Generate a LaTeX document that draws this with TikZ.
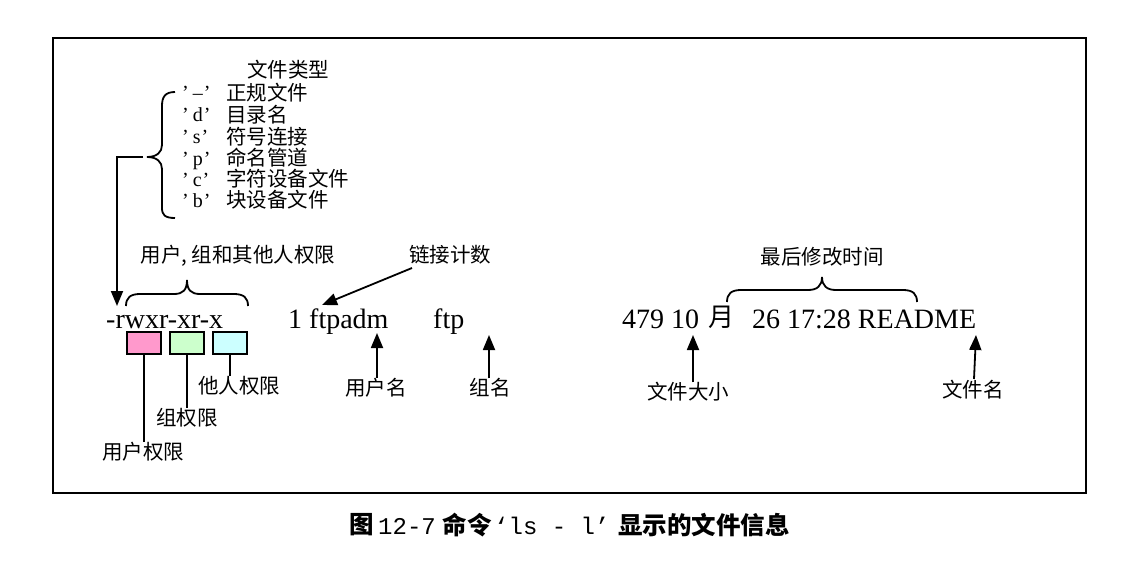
\documentclass[tikz,border=0pt]{standalone}
\usepackage{fontspec}
\setmainfont{Liberation Serif}
\newfontfamily\cjk{Noto Sans CJK SC}
\newfontfamily\mymono{Liberation Mono}
\usetikzlibrary{arrows.meta}
\tikzset{
  lbl/.style={font=\cjk\fontsize{20.5}{24}\selectfont, inner sep=0pt},
  code/.style={font=\fontsize{20}{24}\selectfont, inner sep=0pt, anchor=base west},
  big/.style={font=\fontsize{28}{32}\selectfont, inner sep=0pt, anchor=base west},
  ln/.style={line width=1.8pt},
  arr/.style={line width=1.8pt, -{Triangle[length=15pt,width=12pt]}},
  permbox/.style={draw, line width=1.5pt, minimum width=34pt, minimum height=22pt, inner sep=0pt},
  capt/.style={font=\cjk\bfseries\fontsize{24.5}{28}\selectfont, inner sep=0pt},
  captl/.style={font=\mymono\fontsize{24}{28}\selectfont, inner sep=0pt, anchor=base west},
}
\definecolor{pinkbox}{HTML}{FF99CC}
\definecolor{greenbox}{HTML}{CCFFCC}
\definecolor{cyanbox}{HTML}{CCFFFF}
\newcommand{\qc}[1]{’\hspace{4pt}#1\hspace{1pt}’}
\begin{document}
\begin{tikzpicture}[x=1pt,y=-1pt]
\useasboundingbox (0,0) rectangle (1135,567);
% frame
\draw[line width=2pt] (53,38) rectangle (1086,493);

% file type list
\node[lbl] (ft) at (288,70) {文件类型};
\foreach \c/\t/\y [count=\i] in {–/正规文件/93, d/目录名/115, s/符号连接/137, p/命名管道/158, c/字符设备文件/179, b/块设备文件/200}{
  \node[code] (c\i) at (182,\y+7) {\qc{\c}};
  \node[lbl, anchor=west] (t\i) at (226,\y) {\t};
}
% left brace
\draw[ln] (175,92) .. controls (165,92) and (162,97) .. (162,106) -- (162,145)
  .. controls (162,152) and (157,157) .. (147,157)
  .. controls (157,157) and (162,162) .. (162,169) -- (162,208)
  .. controls (162,215) and (165,218) .. (175,218);
\coordinate (bt) at (143,157);
\coordinate (ta) at (117,306);
\draw[arr] (bt) -| (ta);

% permissions
\node[lbl] (perm) at (238,256) {用户, 组和其他人权限};
\draw[ln] (126,306) .. controls (126,298) and (130,294) .. (140,294) -- (174,294)
  .. controls (183,294) and (187,290) .. (187,280)
  .. controls (187,290) and (191,294) .. (200,294) -- (234,294)
  .. controls (244,294) and (248,298) .. (248,306);
\node[big] (mode) at (106,328) {-rwxr-xr-x};
\node[permbox, fill=pinkbox] (pb) at (144,343) {};
\node[permbox, fill=greenbox] (gb) at (187,343) {};
\node[permbox, fill=cyanbox] (cb) at (230,343) {};
\node[lbl] (ul) at (143,452) {用户权限};
\node[lbl] (gl) at (187,418) {组权限};
\node[lbl] (ol) at (239,386) {他人权限};
\draw[ln] (pb.south) -- (pb.south |- ul.north);
\draw[ln] (gb.south) -- (gb.south |- gl.north);
\draw[ln] (cb.south) -- (cb.south |- ol.north);

% link count, user, group
\node[big] (owner) at (288,328) {1 ftpadm};
\node[big] (grp) at (433,328) {ftp};
\node[lbl] (lc) at (450,255) {链接计数};
\coordinate (lcs) at (412,268);
\coordinate (lct) at (322,305);
\draw[arr] (lcs) -- (lct);
\node[lbl] (un) at (376,388) {用户名};
\coordinate (unt) at (377,333);
\draw[arr] (unt |- un.north) -- (unt);
\node[lbl] (gn) at (490,388) {组名};
\coordinate (gnt) at (489,335);
\draw[arr] (gnt |- gn.north) -- (gnt);

% size, date, name
\node[big] (size) at (622,328) {479 10};
\node[big, font=\cjk\fontsize{26}{30}\selectfont] (mon) at (708,326) {月};
\node[big] (rest) at (752,328) {26 17:28 README};
\node[lbl] (lm) at (822,257) {最后修改时间};
\draw[ln] (727,302) .. controls (727,294) and (731,290) .. (741,290) -- (808,290)
  .. controls (817,290) and (822,286) .. (822,277)
  .. controls (822,286) and (827,290) .. (836,290) -- (903,290)
  .. controls (913,290) and (917,294) .. (917,302);
\node[lbl] (fs) at (688,392) {文件大小};
\coordinate (fst) at (693,335);
\draw[arr] (fst |- fs.north) -- (fst);
\node[lbl] (fn) at (973,390) {文件名};
\coordinate (fnt) at (976,335);
\coordinate (fnb) at (974,379);
\draw[arr] (fnb) -- (fnt);

% caption
\node[capt] (c1) at (362,525) {图};
\node[captl] (c2) at (378,534) {12-7};
\node[capt] (c3) at (467,525) {命令};
\node[captl] (c4) at (494,534) {‘ls - l’};
\node[capt, anchor=west] (c5) at (618,525) {显示的文件信息};
\end{tikzpicture}
\end{document}
